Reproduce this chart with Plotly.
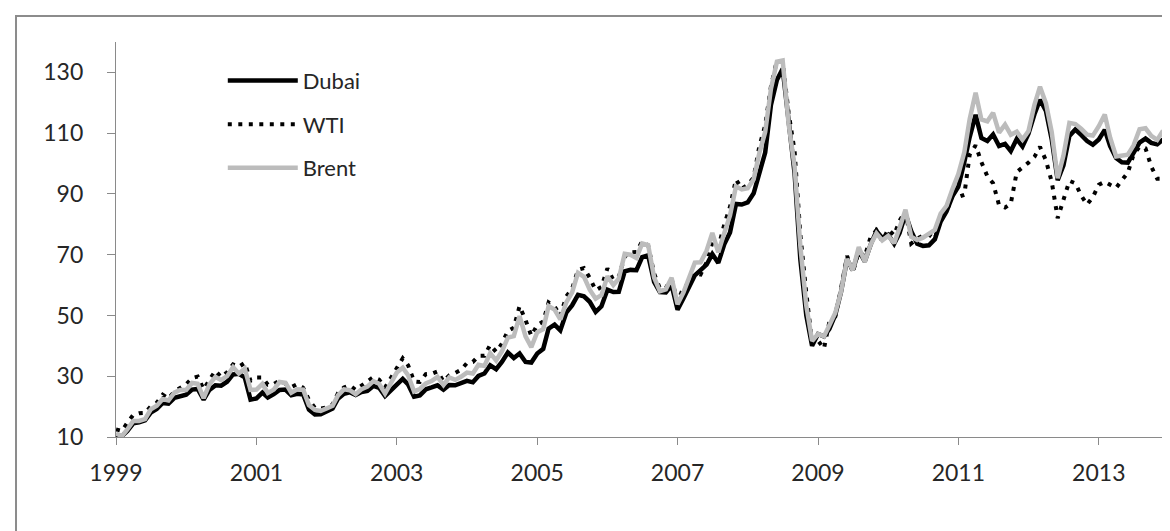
import pandas as pd
import plotly.graph_objects as go

# Monthly average crude oil prices (US$/bbl), Jan 1999 - Dec 2013
start_month = "1999-01-01"
n_months = 180

dubai = [
    10.3, 10.3, 12.0, 14.5, 14.8, 15.5, 18.0, 19.2, 21.2, 21.0, 22.9, 23.4,
    23.9, 25.6, 25.8, 22.3, 25.5, 27.0, 26.9, 28.2, 30.6, 30.8, 29.6, 22.3,
    22.7, 24.6, 23.0, 24.1, 25.5, 25.6, 23.7, 24.2, 24.0, 19.0, 17.4, 17.5,
    18.6, 19.4, 22.6, 24.2, 24.7, 23.8, 24.8, 25.2, 26.8, 26.2, 23.5, 25.4,
    27.2, 29.1, 27.3, 23.3, 23.7, 25.7, 26.3, 27.0, 25.6, 27.1, 27.0, 27.6,
    28.5, 28.0, 30.1, 30.9, 33.6, 32.3, 34.7, 37.8, 36.0, 37.5, 34.7, 34.5,
    37.5, 39.0, 45.7, 47.0, 45.1, 50.9, 53.3, 56.8, 56.3, 54.5, 51.2, 53.0,
    58.5, 57.7, 57.8, 64.5, 65.0, 64.9, 69.2, 69.8, 61.0, 57.7, 57.6, 60.0,
    51.9, 55.7, 59.1, 63.2, 64.9, 66.7, 70.2, 67.3, 73.4, 77.3, 86.7, 86.5,
    87.2, 90.2, 96.7, 103.6, 119.3, 127.5, 131.2, 113.1, 96.8, 68.4, 50.0, 40.0,
    43.9, 43.1, 45.6, 50.2, 57.9, 68.5, 64.9, 71.4, 67.8, 73.2, 77.8, 75.5,
    76.6, 73.6, 77.1, 83.4, 77.7, 73.6, 72.9, 73.1, 75.1, 80.9, 84.3, 89.2,
    92.4, 100.4, 108.7, 116.0, 108.4, 107.4, 109.6, 105.8, 106.5, 104.1, 108.1, 105.6,
    109.8, 116.2, 121.0, 117.3, 107.9, 94.5, 99.4, 109.1, 111.2, 109.4, 107.4, 106.2,
    107.9, 111.1, 105.7, 101.8, 100.4, 100.3, 103.6, 106.9, 108.2, 106.8, 106.3, 107.9,
]

wti = [
    12.5, 12.0, 14.7, 17.3, 17.8, 17.9, 20.1, 21.3, 23.9, 22.6, 25.0, 26.1,
    27.3, 29.4, 29.9, 25.7, 28.8, 31.8, 29.7, 31.3, 33.9, 33.1, 34.4, 28.5,
    29.6, 29.6, 27.2, 27.4, 28.6, 27.6, 26.4, 27.4, 26.2, 22.2, 19.6, 19.4,
    19.7, 20.7, 24.4, 26.3, 27.0, 25.5, 26.9, 28.4, 29.7, 28.9, 26.3, 29.4,
    32.9, 35.9, 33.6, 28.3, 28.1, 30.7, 30.8, 31.6, 28.3, 30.3, 31.1, 32.1,
    34.3, 34.7, 36.7, 36.7, 40.3, 38.0, 40.7, 44.9, 46.0, 53.1, 48.5, 43.3,
    46.8, 48.0, 54.3, 53.0, 49.8, 56.3, 58.7, 65.0, 65.6, 62.4, 58.3, 59.4,
    65.5, 61.6, 62.7, 69.4, 70.8, 70.9, 74.4, 73.0, 63.8, 58.9, 59.1, 62.0,
    54.5, 59.3, 60.4, 63.9, 63.5, 67.5, 74.1, 72.4, 79.9, 85.8, 94.8, 91.7,
    93.0, 95.4, 105.5, 112.6, 125.4, 133.9, 133.4, 116.7, 104.1, 76.6, 57.3, 41.1,
    41.7, 39.1, 47.9, 49.7, 59.0, 69.6, 64.2, 71.1, 69.4, 75.7, 78.0, 74.5,
    78.3, 76.4, 81.2, 84.3, 73.7, 75.3, 76.3, 76.6, 75.2, 81.9, 84.3, 89.2,
    89.0, 89.7, 102.9, 106.0, 100.5, 95.8, 93.5, 86.3, 85.5, 86.8, 97.2, 98.6,
    100.3, 102.2, 105.5, 101.0, 94.0, 82.0, 87.9, 94.3, 93.5, 89.5, 86.5, 89.0,
    93.0, 94.0, 93.0, 92.0, 94.5, 97.0, 103.0, 105.5, 105.0, 99.0, 95.0, 95.0,
]

brent = [
    11.1, 10.3, 12.5, 15.3, 15.3, 15.9, 19.1, 20.3, 22.5, 22.0, 24.6, 25.5,
    25.5, 27.8, 27.5, 22.8, 27.3, 29.8, 28.7, 30.0, 33.0, 30.9, 32.5, 25.5,
    25.6, 27.5, 24.5, 25.6, 28.1, 27.8, 24.6, 25.7, 25.6, 20.5, 18.9, 18.6,
    19.4, 20.3, 23.7, 25.7, 25.4, 24.1, 25.7, 26.6, 28.4, 27.5, 24.3, 28.0,
    31.2, 32.8, 30.3, 25.0, 25.8, 27.6, 28.4, 29.8, 27.1, 29.6, 28.8, 29.8,
    31.2, 30.9, 33.8, 33.4, 37.6, 35.2, 38.2, 42.7, 43.2, 49.8, 43.1, 39.6,
    44.5, 45.5, 53.1, 51.9, 48.7, 54.3, 57.5, 64.0, 62.7, 58.5, 55.5, 56.7,
    62.9, 60.0, 62.1, 70.3, 70.0, 68.9, 73.7, 73.2, 62.5, 58.0, 58.6, 62.4,
    53.7, 57.6, 62.1, 67.4, 67.5, 71.3, 77.2, 70.8, 77.1, 82.9, 92.5, 91.5,
    91.9, 94.8, 103.3, 110.4, 124.6, 133.5, 133.9, 113.0, 99.0, 72.8, 53.2, 41.6,
    43.9, 43.1, 46.8, 50.9, 57.9, 68.6, 64.9, 72.5, 67.7, 73.2, 77.0, 74.7,
    76.2, 73.8, 78.8, 84.8, 75.9, 74.8, 75.6, 77.1, 78.2, 83.5, 86.1, 91.5,
    96.5, 103.7, 114.6, 123.3, 114.5, 113.9, 116.7, 110.2, 112.8, 109.5, 110.5, 107.9,
    110.7, 119.3, 125.3, 119.8, 110.3, 95.2, 102.6, 113.4, 113.0, 111.5, 109.5, 109.2,
    112.3, 116.1, 108.5, 102.3, 102.6, 102.9, 106.0, 111.3, 111.6, 109.1, 107.8, 110.8,
]

tick_years = ["1999", "2001", "2003", "2005", "2007", "2009", "2011", "2013"]
y_ticks = [10, 30, 50, 70, 90, 110, 130]

months = pd.date_range(start_month, periods=n_months, freq="MS")
tick_dates = [f"{y}-01-01" for y in tick_years]

FONT = "Lato"
TXT = "#262626"
AXIS = "#8a8a8a"

fig = go.Figure()
fig.add_trace(go.Scatter(x=months, y=dubai, name="Dubai", mode="lines",
                         legendgroup="a",
                         line=dict(color="#000000", width=4.5)))
fig.add_trace(go.Scatter(x=months, y=wti, name="WTI", mode="lines",
                         legendgroup="b",
                         line=dict(color="#000000", width=4, dash="4px,6.5px")))
fig.add_trace(go.Scatter(x=months, y=brent, name="Brent", mode="lines",
                         legendgroup="c",
                         line=dict(color="#bcbcbc", width=4.5)))

fig.update_layout(
    width=1170, height=531,
    margin=dict(l=108, r=15, t=34, b=102),
    paper_bgcolor="white", plot_bgcolor="white",
    font=dict(family=FONT, size=22, color=TXT),
    showlegend=True,
    legend=dict(x=0.102, y=0.955, xanchor="left", yanchor="top",
                bgcolor="rgba(0,0,0,0)", itemwidth=70, tracegroupgap=12,
                font=dict(family=FONT, size=22, color=TXT)),
    xaxis=dict(range=[months[0], months[-1]], tickvals=tick_dates, ticktext=tick_years,
               showgrid=False, zeroline=False, showline=True, linecolor=AXIS, linewidth=1.3,
               ticks="outside", ticklen=7, tickcolor=AXIS, tickwidth=1.3,
               ticklabelstandoff=8,
               tickfont=dict(family=FONT, size=23, color=TXT)),
    yaxis=dict(range=[10, 140], tickvals=y_ticks,
               showgrid=False, zeroline=False, showline=True, linecolor=AXIS, linewidth=1.3,
               ticks="outside", ticklen=8, tickcolor=AXIS, tickwidth=1.3,
               ticklabelstandoff=19,
               tickfont=dict(family=FONT, size=23, color=TXT)),
    shapes=[dict(type="rect", xref="paper", yref="paper",
                 x0=-0.0955, x1=1.5, y0=-1.0, y1=1.066,
                 line=dict(color="#8c8c8c", width=2), fillcolor="rgba(0,0,0,0)",
                 layer="below")],
)

fig.write_html("out.html")
